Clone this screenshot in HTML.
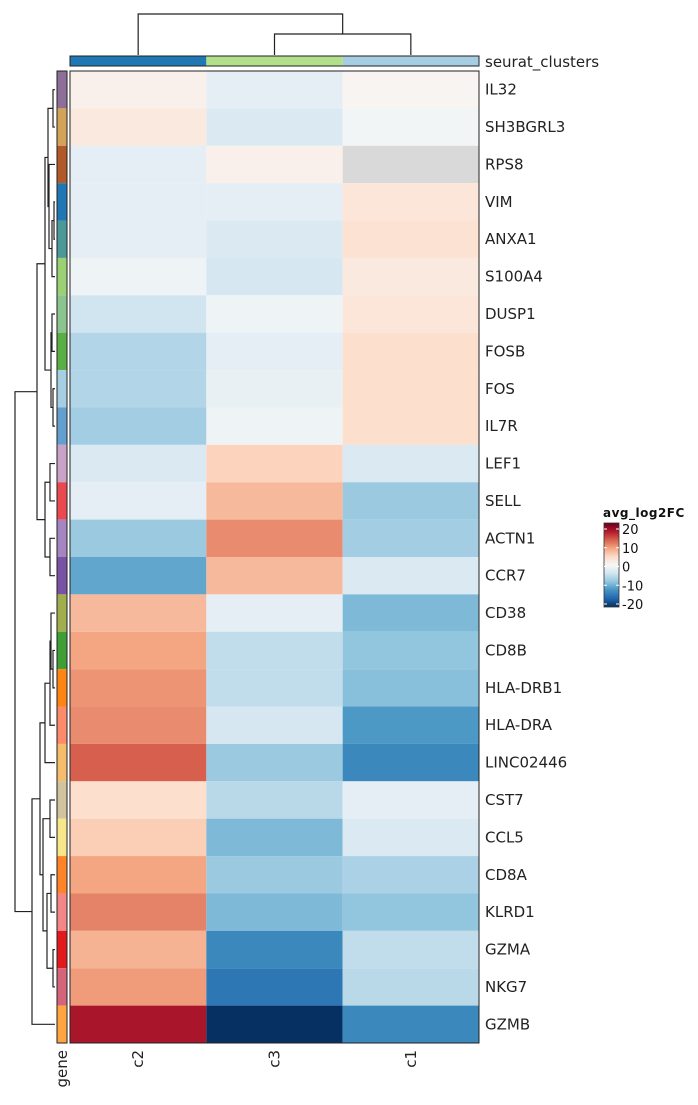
<!DOCTYPE html>
<html><head><meta charset="utf-8"><style>
body{margin:0;background:#fff;width:698px;height:1100px;overflow:hidden}
svg{font-family:"DejaVu Sans","Liberation Sans",sans-serif}
</style></head><body>
<svg id="chart" width="698" height="1100" xmlns="http://www.w3.org/2000/svg"></svg>
<script>
const genes=["IL32","SH3BGRL3","RPS8","VIM","ANXA1","S100A4","DUSP1","FOSB","FOS","IL7R","LEF1","SELL","ACTN1","CCR7","CD38","CD8B","HLA-DRB1","HLA-DRA","LINC02446","CST7","CCL5","CD8A","KLRD1","GZMA","NKG7","GZMB"];
const clusters=["c2","c3","c1"];
const valC2=[1,2,-2,-2,-2,-1,-4,-6,-6,-7,-3,-2,-7.5,-10.5,6.5,8,9,9.5,12,3.5,5,8,10,7,8.5,16.5];
const valC3=[-2,-3,1,-2,-3,-3.5,-1,-2,-1.5,-1,4.5,6.5,9.5,6.5,-2,-5,-5,-3.5,-7.5,-5.5,-9,-7.5,-9,-13,-14.5,-20];
const valC1=[0.5,-0.5,null,2.5,3,2,2.5,3.5,3.5,3.5,-3,-7.5,-7,-3,-9,-8,-8.5,-11.5,-13,-2,-3,-6.5,-8,-5,-5.5,-13];
const geneColors=["#8e6f98","#d4a35a","#b15928","#1f78b4","#4a9898","#9bd174","#8cc48f","#5aae46","#a6cee3","#63a0d0","#c9a2c7","#e9494f","#a585c0","#7a52a5","#a0ae4e","#3f9e35","#fe8511","#fb8b6a","#f5bc6c","#d0c39e","#f5e78a","#fe8427","#f38787","#e31a1c","#d46479","#fea441"];
const clusterColors=["#1f78b4","#b2df8a","#a6cee3"];
const legendTicks=[20,10,0,-10,-20];

const NS="http://www.w3.org/2000/svg";
const svg=document.getElementById('chart');
function el(t,a,p){const e=document.createElementNS(NS,t);for(const k in a)e.setAttribute(k,a[k]);(p||svg).appendChild(e);return e;}
const X0=70,X1=479,Y0=71,Y1=1043;
const cw=(X1-X0)/clusters.length, rh=(Y1-Y0)/genes.length;
const stops=[[-20,"#053061"],[-16,"#2166ac"],[-12,"#4393c3"],[-8,"#92c5de"],[-4,"#d1e5f0"],[0,"#f7f7f7"],[4,"#fddbc7"],[8,"#f4a582"],[12,"#d6604d"],[16,"#b2182b"],[20,"#67001f"]];
function hx(c){return [1,3,5].map(i=>parseInt(c.substr(i,2),16));}
function color(v){if(v==null)return "#d9d9d9";v=Math.max(-20,Math.min(20,v));
 for(let i=0;i<stops.length-1;i++){const [a,ca]=stops[i],[b,cb]=stops[i+1];if(v<=b){const t=(v-a)/(b-a);const A=hx(ca),B=hx(cb);return "rgb("+A.map((x,j)=>Math.round(x+(B[j]-x)*t)).join(",")+")";}}return stops[10][1];}
const series=[valC2,valC3,valC1];
const gH=el('g',{});
series.forEach((vals,ci)=>{vals.forEach((v,ri)=>{
 const r=el('rect',{x:X0+ci*cw,y:Y0+ri*rh,width:cw,height:rh,fill:color(v)},gH);
 
 
});});
const br=el('rect',{x:X0,y:Y0,width:X1-X0,height:Y1-Y0,fill:"none",stroke:"#222","stroke-width":1});

clusters.forEach((c,i)=>{const r=el('rect',{x:X0+i*cw,y:56,width:cw,height:10,fill:clusterColors[i]});
 });
el('rect',{x:X0,y:56,width:X1-X0,height:10,fill:"none",stroke:"#222"});
const ct=el('text',{x:485,y:67,"font-size":15,fill:"#222"});ct.textContent="seurat_clusters";

genes.forEach((g,i)=>{const r=el('rect',{x:57,y:Y0+i*rh,width:10,height:rh,fill:geneColors[i]});
 
 const t=el('text',{x:485,y:Y0+(i+0.5)*rh+5,"font-size":15,fill:"#222"});t.textContent=g;
 });
el('rect',{x:57,y:Y0,width:10,height:Y1-Y0,fill:"none",stroke:"#222"});
const gt=el('text',{transform:"translate(67,1050) rotate(-90)","text-anchor":"end","font-size":15,fill:"#222"});gt.textContent="gene";

clusters.forEach((c,i)=>{const t=el('text',{transform:`translate(${X0+(i+0.5)*cw+5},1050) rotate(-90)`,"text-anchor":"end","font-size":15,fill:"#222"});t.textContent=c;
 });
const cd=el('path',{d:`M${X0+cw*1.5},55V34H${X0+cw*2.5}V55M${X0+cw*2},34V14H${X0+cw*0.5}V55`,fill:"none",stroke:"#222","stroke-width":1.2});

const tree=[[[[[[0,1,53],[2,[[3,4,54],5,52],49],48],[[6,7,52],[8,9,53],51],45],[[10,11,50],[12,13,50],45],37],
 [[[[[14,[15,16,53],51],17,50],18,45],[[19,20,50],[[21,22,51],[23,24,53],47],43],40],25,32],15]];
let d="";
function walk(n){if(typeof n==="number")return {x:55,y:Y0+(n+0.5)*rh};
 const a=walk(n[0]),b=walk(n[1]),x=n[2];
 d+=`M${a.x},${a.y}H${x}V${b.y}H${b.x}`;return {x:x,y:(a.y+b.y)/2};}
walk(tree[0]);
const rd=el('path',{d:d,fill:"none",stroke:"#222","stroke-width":1.2});

const lg=el('g',{});
const lt=el('text',{x:603,y:517,"font-size":12,"font-weight":"bold",fill:"#111","letter-spacing":"0.5"},lg);lt.textContent="avg_log2FC";
const defs=el('defs',{});const gr=el('linearGradient',{id:"lgd",x1:0,y1:0,x2:0,y2:1},defs);
stops.slice().reverse().forEach((s,i)=>el('stop',{offset:i/10,"stop-color":s[1]},gr));
const lby=v=>529+(20-v)/40*(604-529);
el('rect',{x:604,y:523,width:15,height:84,fill:"url(#lgd)",stroke:"#333","stroke-width":0.8},lg);
legendTicks.forEach(v=>{const y=lby(v);
 el('line',{x1:604,x2:607,y1:y,y2:y,stroke:"#fff"},lg);el('line',{x1:616,x2:619,y1:y,y2:y,stroke:"#fff"},lg);
 const t=el('text',{x:622,y:y+5,"font-size":13,fill:"#111"},lg);t.textContent=v;
 });
</script>
</body></html>
